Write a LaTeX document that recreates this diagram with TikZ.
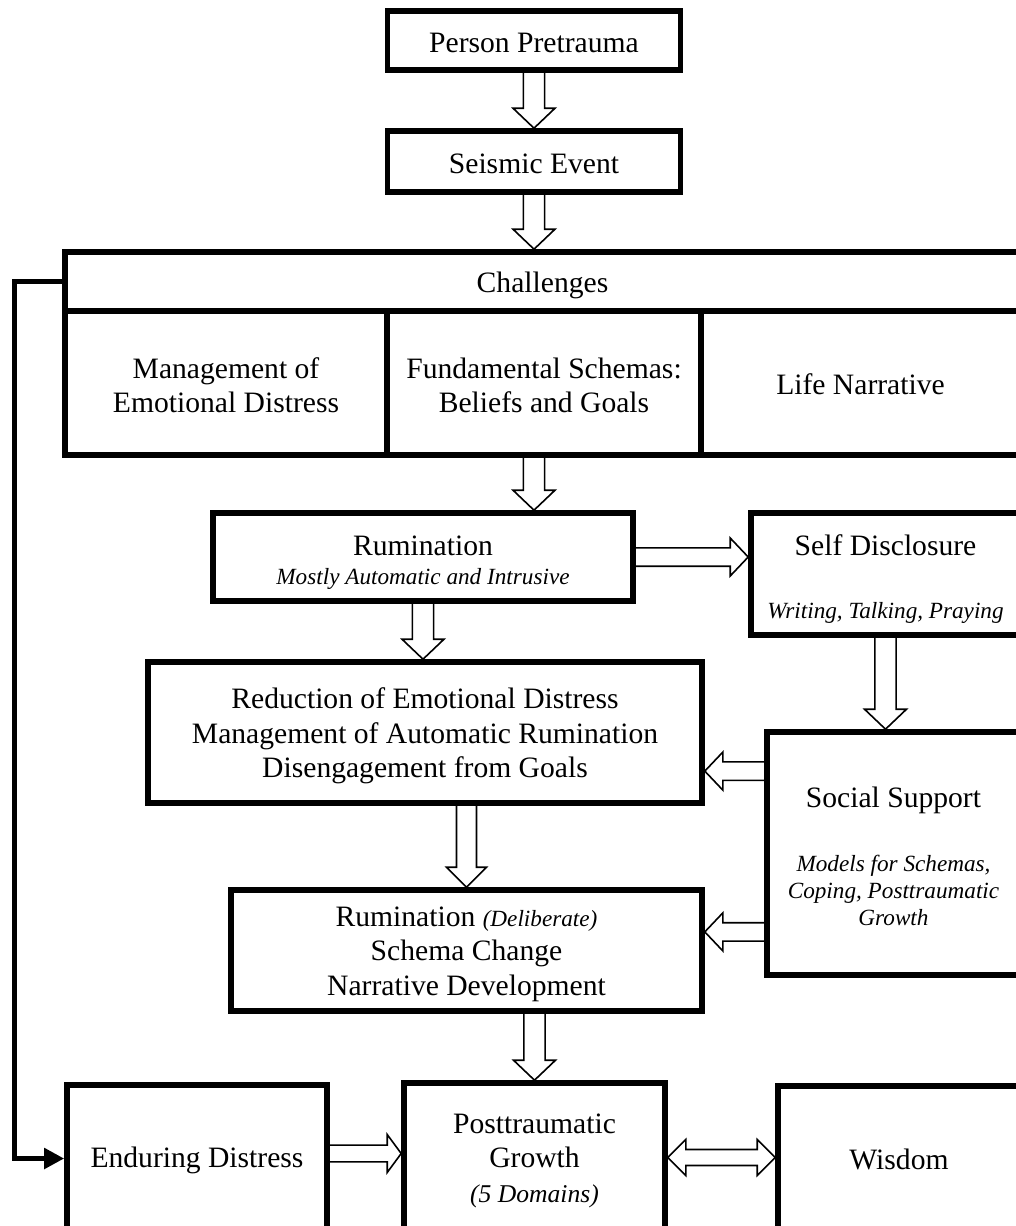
\documentclass[tikz,border=0pt]{standalone}
\usepackage{fontspec}
\setmainfont{Liberation Serif}
\usetikzlibrary{calc,arrows.meta}
\newcommand\mf{\fontsize{14.8}{17.25}\selectfont}
\newcommand\itf{\fontsize{11.6}{13.8}\selectfont\itshape}
\newcommand\itg{\fontsize{12.8}{15}\selectfont\itshape}
\newcommand\st[1][14pt]{\rule{0pt}{#1}}
\begin{document}
\begin{tikzpicture}[x=0.5pt,y=-0.5pt,
  box/.style={draw, line width=2.8pt, inner sep=0pt, outer sep=1.4pt, align=center, font=\mf, fill=white},
  hollow/.style n args={3}{line width=0.8pt, line join=miter, to path={
    ($(\tikztostart)!#1!90:(\tikztotarget)$)
    -- ($(\tikztotarget)!#3!(\tikztostart)!#1!-90:(\tikztostart)$)
    -- ($(\tikztotarget)!#3!(\tikztostart)!#2!-90:(\tikztostart)$)
    -- (\tikztotarget)
    -- ($(\tikztotarget)!#3!(\tikztostart)!#2!90:(\tikztostart)$)
    -- ($(\tikztotarget)!#3!(\tikztostart)!#1!90:(\tikztostart)$)
    -- ($(\tikztostart)!#1!-90:(\tikztotarget)$)}},
  dhollow/.style n args={3}{line width=0.8pt, line join=miter, to path={
    (\tikztostart)
    -- ($(\tikztostart)!#3!(\tikztotarget)!#2!90:(\tikztotarget)$)
    -- ($(\tikztostart)!#3!(\tikztotarget)!#1!90:(\tikztotarget)$)
    -- ($(\tikztotarget)!#3!(\tikztostart)!#1!-90:(\tikztostart)$)
    -- ($(\tikztotarget)!#3!(\tikztostart)!#2!-90:(\tikztostart)$)
    -- (\tikztotarget)
    -- ($(\tikztotarget)!#3!(\tikztostart)!#2!90:(\tikztostart)$)
    -- ($(\tikztotarget)!#3!(\tikztostart)!#1!90:(\tikztostart)$)
    -- ($(\tikztostart)!#3!(\tikztotarget)!#1!-90:(\tikztotarget)$)
    -- ($(\tikztostart)!#3!(\tikztotarget)!#2!-90:(\tikztotarget)$)
    -- cycle}},
  varrow/.style={hollow={5.3pt}{10.5pt}{10pt}},
  harrow/.style={hollow={4.6pt}{9.5pt}{9pt}},
  fbline/.style={line width=2.5pt, line join=miter, -{Triangle[length=10pt,width=10pt]}}
]
\clip (0,0) rectangle (1016,1226);
\fill[white] (0,0) rectangle (1016,1226);

% boxes
\node[box, minimum width=146.5pt, minimum height=29.5pt] (pre) at (534,40.5) {\st[12pt]Person Pretrauma};
\node[box, minimum width=146.5pt, minimum height=30.5pt] (seis) at (534,161.5) {\st[12.5pt]Seismic Event};
\node[box, minimum width=477.5pt, minimum height=29.5pt] (chall) at (542.5,281.5) {\st Challenges};
\node[box, minimum width=161pt, minimum height=72pt] (c1) at (226,383) {\st[12.5pt]Management of\\Emotional Distress};
\node[box, minimum width=157pt, minimum height=72pt] (c2) at (544,383) {\st[12.5pt]Fundamental Schemas:\\Beliefs and Goals};
\node[box, minimum width=159.5pt, minimum height=72pt] (c3) at (860.5,383) {\st[12pt]Life Narrative};
\node[box, minimum width=210pt, minimum height=44pt] (rum) at (423,557) {\st[15.5pt]Rumination\\[-3pt]{\itf Mostly Automatic and Intrusive}};
\node[box, minimum width=134.5pt, minimum height=61pt] (sd) at (885.5,574) {\st[15.5pt]Self Disclosure\\[14pt]{\itf Writing, Talking, Praying}};
\node[box, minimum width=277pt, minimum height=70.5pt] (red) at (425,732.5) {\st Reduction of Emotional Distress\\Management of Automatic Rumination\\Disengagement from Goals};
\node[box, minimum width=126.5pt, minimum height=121.5pt] (ss) at (893.5,853.5) {\st[13pt]Social Support\\[14.5pt]{\itf Models for Schemas,}\\[-3.7pt]{\itf Coping, Posttraumatic}\\[-3.7pt]{\itf Growth}};
\node[box, minimum width=235.5pt, minimum height=60.5pt] (del) at (466.5,950.5) {\st[13.5pt]Rumination {\itf (Deliberate)}\\Schema Change\\Narrative Development};
\node[box, minimum width=130pt, minimum height=73.5pt] (end) at (197,1158.5) {\st[12pt]Enduring Distress};
\node[box, minimum width=130.5pt, minimum height=74.5pt] (ptg) at (534.5,1157.5) {\st[13pt]Posttraumatic\\Growth\\{\itg (5 Domains)}};
\node[box, minimum width=121pt, minimum height=73pt] (wis) at (899,1159) {Wisdom};

% connector end points
\coordinate (a1s) at (pre.south);
\coordinate (a1e) at (seis.north);
\coordinate (a2s) at (seis.south);
\coordinate (a2e) at (seis.south |- chall.north);
\coordinate (a3s) at (c2.south -| pre.south);
\coordinate (a3e) at (rum.north -| pre.south);
\coordinate (a4s) at (rum.east);
\coordinate (a4e) at (rum.east -| sd.west);
\coordinate (a5s) at (rum.south);
\coordinate (a5e) at (rum.south |- red.north);
\coordinate (a6s) at (sd.south);
\coordinate (a6e) at (sd.south |- ss.north);
\coordinate (a7s) at ([yshift=41.2pt]ss.west);
\coordinate (a7e) at (a7s -| red.east);
\coordinate (a8s) at ([yshift=-39.2pt]ss.west);
\coordinate (a8e) at (a8s -| del.east);
\coordinate (a9s) at (del.north |- red.south);
\coordinate (a9e) at (del.north);
\coordinate (a10s) at (del.south -| ptg.north);
\coordinate (a10e) at (ptg.north);
\coordinate (a11s) at ([yshift=2.5pt]end.east);
\coordinate (a11e) at (a11s -| ptg.west);
\coordinate (a12s) at (ptg.east);
\coordinate (a12e) at (ptg.east -| wis.west);
\coordinate (fb) at (14,281.5);

% connectors
\draw[varrow] (a1s) to (a1e);
\draw[varrow] (a2s) to (a2e);
\draw[varrow] (a3s) to (a3e);
\draw[harrow] (a4s) to (a4e);
\draw[varrow] (a5s) to (a5e);
\draw[varrow] (a6s) to (a6e);
\draw[harrow] (a7s) to (a7e);
\draw[harrow] (a8s) to (a8e);
\draw[hollow={5pt}{10pt}{10pt}] (a9s) to (a9e);
\draw[varrow] (a10s) to (a10e);
\draw[hollow={4.2pt}{9.5pt}{7pt}] (a11s) to (a11e);
\draw[dhollow={4pt}{9pt}{9pt}] (a12s) to (a12e);
\draw[fbline] (chall.west) -- (fb) |- (end.west);
\end{tikzpicture}
\end{document}
